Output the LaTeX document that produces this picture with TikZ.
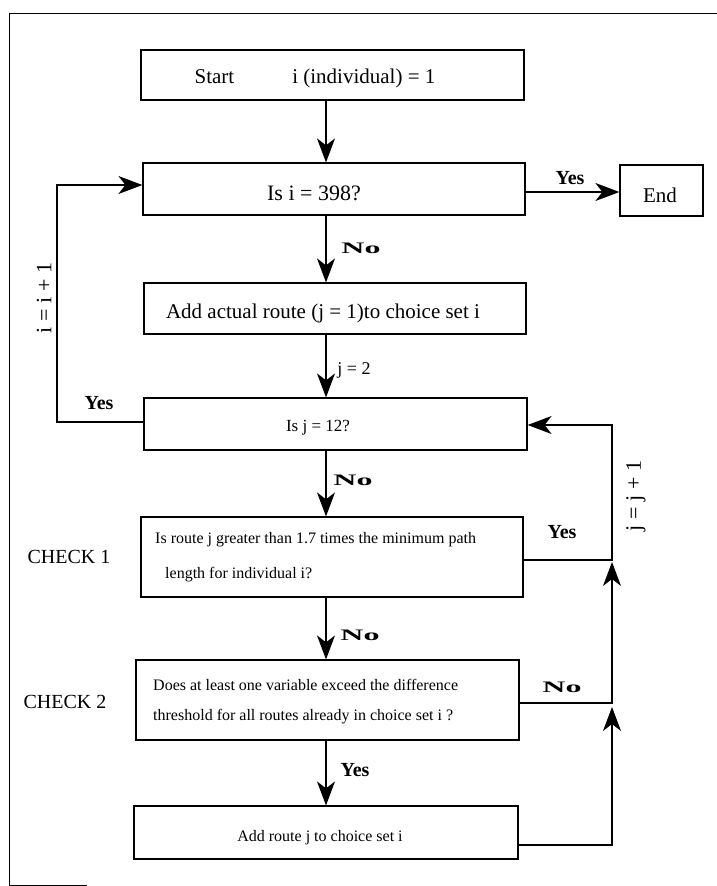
\documentclass[tikz,border=0pt]{standalone}
\usepackage{fontspec}
\setmainfont{Liberation Serif}
\usetikzlibrary{arrows.meta,calc}
\begin{document}
\begin{tikzpicture}[x=1pt,y=-1pt,
  box/.style={draw,line width=1.2pt,inner sep=0pt},
  ln/.style={line width=1.1pt},
  arr/.style={line width=1.1pt,-{Stealth[length=24pt,width=18pt,inset=7pt]}},
  big/.style={inner sep=0pt,font=\fontsize{21}{25}\selectfont},
  mid/.style={inner sep=0pt,font=\fontsize{17}{21}\selectfont},
  small/.style={inner sep=0pt,font=\fontsize{16}{19}\selectfont},
  yeslab/.style={inner sep=0pt,font=\fontsize{20}{24}\selectfont\bfseries},
  nolab/.style={inner sep=0pt,font=\fontsize{16}{19}\selectfont\bfseries,xscale=2.0},
  chk/.style={inner sep=0pt,font=\fontsize{20}{24}\selectfont},
  rot/.style={inner sep=0pt,rotate=90,font=\fontsize{22}{26}\selectfont}]
\useasboundingbox (0,0) rectangle (717,886);
% frame
\draw[line width=1pt] (717,13) -- (9,13) -- (9,885) -- (87,885);
% boxes
\node[box,minimum width=383pt,minimum height=50pt] (start) at (332.5,75) {};
\node[box,minimum width=382pt,minimum height=52pt] (isi) at (334,189) {};
\node[box,minimum width=83pt,minimum height=51pt] (endn) at (661.5,190.5) {};
\node[box,minimum width=382pt,minimum height=51pt] (addact) at (335,308.5) {};
\node[box,minimum width=383pt,minimum height=52pt] (isj) at (335.5,424) {};
\node[box,minimum width=382pt,minimum height=80pt] (chk1) at (332,557) {};
\node[box,minimum width=383pt,minimum height=80pt] (chk2) at (327.5,700) {};
\node[box,minimum width=384pt,minimum height=53pt] (addr) at (326,832.5) {};
% texts
\node[big] (tstart) at (315,78) {Start\hspace{58pt}i (individual) = 1};
\node[big,font=\fontsize{22}{26}\selectfont] (tisi) at (314,193) {Is i = 398?};
\node[big] (tend) at (660,195) {End};
\node[big] (taddact) at (323,313) {Add actual route (j = 1)to choice set i};
\node[mid] (tisj) at (318,428) {Is j = 12?};
\node[small,anchor=west,align=left,font=\fontsize{16}{35}\selectfont] (tchk1) at (155,557)
  {Is route j greater than 1.7 times the minimum path\\\hspace*{10pt}length for individual i?};
\node[small,anchor=west,align=left,font=\fontsize{16}{30}\selectfont] (tchk2) at (153,702)
  {Does at least one variable exceed the difference\\threshold for all routes already in choice set i ?};
\node[small] (taddr) at (320,838) {Add route j to choice set i};
\node[chk] (c1) at (69,557) {CHECK 1};
\node[chk] (c2) at (65,702) {CHECK 2};
% labels
\node[yeslab] (y1) at (570,178) {Yes};
\node[nolab] (n1) at (361,248) {No};
\node[mid,font=\fontsize{18}{21}\selectfont] (j2) at (354,370) {j = 2};
\node[yeslab] (y2) at (99,403) {Yes};
\node[nolab] (n2) at (353,480) {No};
\node[yeslab] (y3) at (562,532) {Yes};
\node[nolab] (n3) at (360,635) {No};
\node[nolab] (n4) at (562,687) {No};
\node[yeslab] (y4) at (355,770) {Yes};
\node[rot] (ii) at (44,298) {i = i + 1};
\node[rot] (jj) at (636,496) {j = j + 1};
% helper coordinates
\coordinate (vx) at (326,0);
\coordinate (lx) at (57,0);
\coordinate (rx) at (612,0);
\coordinate (yEnd) at (0,192);
\coordinate (yA) at (0,185);
\coordinate (yB) at (0,422);
\coordinate (yC) at (0,425);
\coordinate (y1a) at (0,560);
\coordinate (y1t) at (0,562);
\coordinate (y2a) at (0,703);
\coordinate (y2t) at (0,707);
\coordinate (y3a) at (0,845);
% connectors
\draw[arr] (start.south -| vx) -- (isi.north -| vx);
\draw[arr] (isi.south -| vx) -- (addact.north -| vx);
\draw[arr] (addact.south -| vx) -- (isj.north -| vx);
\draw[arr] (isj.south -| vx) -- (chk1.north -| vx);
\draw[arr] (chk1.south -| vx) -- (chk2.north -| vx);
\draw[arr] (chk2.south -| vx) -- (addr.north -| vx);
\draw[arr] (isi.east |- yEnd) -- (endn.west |- yEnd);
\draw[arr] (isj.west |- yB) -| (lx |- yA) -- (isi.west |- yA);
\draw[arr] (addr.east |- y3a) -| (rx |- y2t);
\draw[arr] (chk2.east |- y2a) -| (rx |- y1t);
\draw[arr] (chk1.east |- y1a) -| (rx |- yC) -- (isj.east |- yC);
\end{tikzpicture}
\end{document}
